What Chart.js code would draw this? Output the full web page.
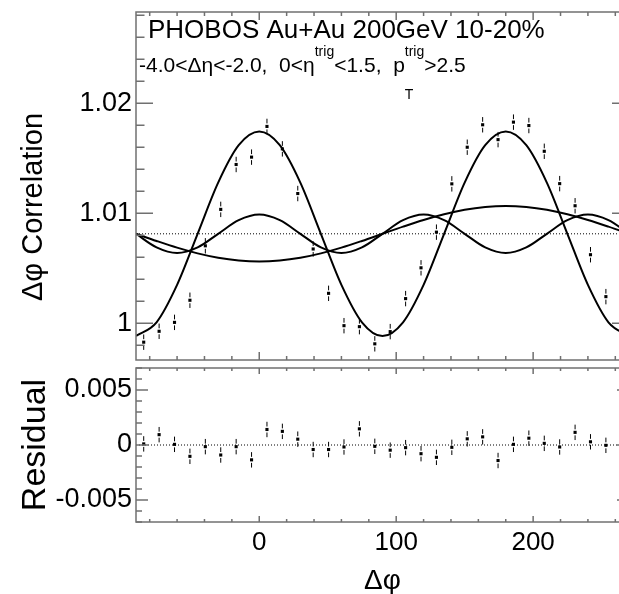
<!DOCTYPE html>
<html>
<head>
<meta charset="utf-8">
<script src="https://cdn.jsdelivr.net/npm/chart.js@4.4.1/dist/chart.umd.min.js"></script>
<style>
  html, body { margin: 0; padding: 0; background: #fff; overflow: hidden; }
  #wrap { position: relative; width: 619px; height: 594px; overflow: hidden; }
  canvas { position: absolute; left: 0; }
</style>
</head>
<body>
<div id="wrap">
  <canvas id="corrChart" width="640" height="364" style="top:0"></canvas>
  <canvas id="resChart" width="640" height="234" style="top:364px"></canvas>
</div>
<script>
const FONT = '"Liberation Sans", Arial, sans-serif';

// bin centres of the histogram (11.25 deg bins)
const phiBins = [-84.375, -73.125, -61.875, -50.625, -39.375, -28.125, -16.875, -5.625,
  5.625, 16.875, 28.125, 39.375, 50.625, 61.875, 73.125, 84.375, 95.625, 106.875,
  118.125, 129.375, 140.625, 151.875, 163.125, 174.375, 185.625, 196.875, 208.125,
  219.375, 230.625, 241.875, 253.125];
const corrValues = [0.99829, 0.99928, 1.00009, 1.00210, 1.00705, 1.01036, 1.01444, 1.01511,
  1.01790, 1.01586, 1.01180, 1.00676, 1.00273, 0.99979, 0.99970, 0.99814, 0.99925, 1.00225,
  1.00505, 1.00829, 1.01268, 1.01601, 1.01805, 1.01670, 1.01829, 1.01798, 1.01564,
  1.01270, 1.01069, 1.00624, 1.00243];
const corrErrors = [0.0007, 0.0007, 0.0007, 0.0007, 0.0007, 0.0007, 0.0007, 0.0007,
  0.0007, 0.0007, 0.0007, 0.0007, 0.0007, 0.0007, 0.0007, 0.0007, 0.0007, 0.0007,
  0.0007, 0.0007, 0.0007, 0.0007, 0.0007, 0.0007, 0.0007, 0.0007, 0.0007,
  0.0007, 0.0007, 0.0007, 0.0007];
const residValues = [0.0001, 0.00094, 0.00006, -0.00103, -0.00015, -0.00091, -0.00015, -0.00135,
  0.00141, 0.00124, 0.00053, -0.00041, -0.00041, -0.00018, 0.00147, -0.00012, -0.00047, -0.00024,
  -0.00079, -0.00112, -0.00021, 0.00056, 0.00074, -0.00141, 0.00006, 0.00062, 0.00015,
  -0.00018, 0.00115, 0.00029, -0.00003];
const residErrors = corrErrors;

// fit components every 15 deg
const curvePhi = [-90, -75, -60, -45, -30, -15, 0, 15, 30, 45, 60, 75, 90, 105, 120, 135,
  150, 165, 180, 195, 210, 225, 240, 255, 270];
const fitHarm1 = [1.00814, 1.00749, 1.00688, 1.00636, 1.00596, 1.00571, 1.00562, 1.00571, 1.00596,
  1.00636, 1.00688, 1.00749, 1.00814, 1.00879, 1.00940, 1.00992, 1.01032, 1.01057, 1.01066,
  1.01057, 1.01032, 1.00992, 1.00940, 1.00879, 1.00814];
const fitHarm2 = [0.99885, 1.00010, 1.00350, 1.00814, 1.01279, 1.01619, 1.01743, 1.01619, 1.01279,
  1.00814, 1.00350, 1.00010, 0.99885, 1.00010, 1.00350, 1.00814, 1.01279, 1.01619, 1.01743,
  1.01619, 1.01279, 1.00814, 1.00350, 1.00010, 0.99885];
const fitHarm3 = [1.00814, 1.00690, 1.00639, 1.00690, 1.00814, 1.00938, 1.00989, 1.00938, 1.00814,
  1.00690, 1.00639, 1.00690, 1.00814, 1.00938, 1.00989, 1.00938, 1.00814, 1.00690, 1.00639,
  1.00690, 1.00814, 1.00938, 1.00989, 1.00938, 1.00814];
const fitBase = 1.00814;

const xRange = [-90, 270];
const corrRange = [0.99667, 1.0283];
const residRange = [-0.007, 0.007];
const xTickValues = [0, 100, 200];
const corrTickValues = [1, 1.01, 1.02];
const corrTickLabels = ['1', '1.01', '1.02'];
const residTickValues = [-0.005, 0, 0.005];
const residTickLabels = ['-0.005', '0', '0.005'];

const headerLine1 = 'PHOBOS Au+Au 200GeV 10-20%';
const corrTitle = '\u0394\u03c6 Correlation';

const pts = (xs, ys) => xs.map((x, i) => ({ x: x, y: ys[i] }));

// vertical error bars with a small gap around the marker
const errorBars = {
  id: 'errorBars',
  afterDatasetsDraw(chart) {
    const { ctx, scales: { x, y } } = chart;
    const ds = chart.data.datasets.find(d => d.errors);
    if (!ds) return;
    ctx.save();
    ctx.strokeStyle = '#000';
    ctx.lineWidth = 1;
    ds.data.forEach((p, i) => {
      const px = x.getPixelForValue(p.x);
      const py = y.getPixelForValue(p.y);
      const hi = y.getPixelForValue(p.y + ds.errors[i]);
      const lo = y.getPixelForValue(p.y - ds.errors[i]);
      ctx.beginPath();
      ctx.moveTo(px, hi); ctx.lineTo(px, py - 3);
      ctx.moveTo(px, py + 3); ctx.lineTo(px, lo);
      ctx.stroke();
    });
    ctx.restore();
  }
};

// ROOT style frame, ticks pointing inwards on all four sides
function framePlugin(cfg) {
  return {
    id: 'frame',
    afterDatasetsDraw(chart) {
      const { ctx, chartArea: a, scales: { x, y } } = chart;
      ctx.save();
      ctx.strokeStyle = '#707070';
      ctx.lineWidth = 1.5;
      ctx.strokeRect(a.left, a.top, a.right - a.left, a.bottom - a.top);
      ctx.beginPath();
      for (let k = -4; k <= 13; k++) {
        const v = k * 20;
        const px = x.getPixelForValue(v);
        const len = v % 100 === 0 ? cfg.xMajor : cfg.xMinor;
        ctx.moveTo(px, a.bottom); ctx.lineTo(px, a.bottom - len);
        ctx.moveTo(px, a.top); ctx.lineTo(px, a.top + len);
      }
      for (let k = cfg.k0; k <= cfg.k1; k++) {
        const py = y.getPixelForValue(k * cfg.step);
        if (py < a.top || py > a.bottom) continue;
        const len = k % 5 === 0 ? cfg.yMajor : cfg.yMajor / 2;
        ctx.moveTo(a.left, py); ctx.lineTo(a.left + len, py);
        ctx.moveTo(a.right, py); ctx.lineTo(a.right - len, py);
      }
      ctx.stroke();
      ctx.restore();
    }
  };
}

// header text plus the y title of the upper pad (placed a bit below centre like ROOT did)
const headerText = {
  id: 'headerText',
  afterDraw(chart) {
    const ctx = chart.ctx;
    ctx.save();
    ctx.fillStyle = '#000';
    ctx.textBaseline = 'alphabetic';
    ctx.font = '26px ' + FONT;
    ctx.fillText(headerLine1, 148, 38);
    const big = '21px ' + FONT, small = '14px ' + FONT;
    const y = 72;
    let x = 139;
    const put = (t, font, dy) => {
      ctx.font = font;
      ctx.fillText(t, x, y + (dy || 0));
      return ctx.measureText(t).width;
    };
    x += put('-4.0<\u0394\u03b7<-2.0,  0<\u03b7', big);
    x += put('trig', small, -16);
    x += put('<1.5,  p', big);
    const wT = put('T', small, 27);
    const wTrig = put('trig', small, -16);
    x += Math.max(wT, wTrig);
    put('>2.5', big);

    ctx.translate(42, 207);
    ctx.rotate(-Math.PI / 2);
    ctx.textAlign = 'center';
    ctx.font = '29px ' + FONT;
    ctx.fillText(corrTitle, 0, 0);
    ctx.restore();
  }
};

const curveStyle = {
  borderColor: '#000', borderWidth: 2, pointRadius: 0,
  cubicInterpolationMode: 'monotone', fill: false
};

function yScale(range, values, labels, title) {
  return {
    type: 'linear', min: range[0], max: range[1],
    grid: { display: false, drawTicks: false },
    border: { display: false },
    afterBuildTicks: s => { s.ticks = values.map(v => ({ value: v })); },
    afterFit: s => { s.width = 136; s.paddingTop = 0; s.paddingBottom = 0; },
    ticks: {
      padding: 4, color: '#000', font: { family: FONT, size: 27 },
      callback: v => labels[values.indexOf(v)]
    },
    title: title
  };
}

new Chart(document.getElementById('corrChart'), {
  type: 'line',
  data: {
    datasets: [
      Object.assign({ label: 'n=1', data: pts(curvePhi, fitHarm1) }, curveStyle),
      Object.assign({ label: 'n=2', data: pts(curvePhi, fitHarm2) }, curveStyle),
      Object.assign({ label: 'n=3', data: pts(curvePhi, fitHarm3) }, curveStyle),
      {
        label: 'baseline', data: pts(xRange, [fitBase, fitBase]),
        borderColor: '#000', borderWidth: 1, borderDash: [1, 2], pointRadius: 0
      },
      {
        type: 'scatter', label: 'data', data: pts(phiBins, corrValues), errors: corrErrors,
        showLine: false, pointStyle: 'rect', pointRadius: 2.2,
        backgroundColor: '#000', borderWidth: 0
      }
    ]
  },
  options: {
    responsive: false,
    animation: false,
    layout: { padding: { left: 0, right: 11, top: 12, bottom: 1 } },
    plugins: { legend: { display: false }, tooltip: { enabled: false } },
    scales: {
      x: { type: 'linear', min: xRange[0], max: xRange[1], display: false },
      y: yScale(corrRange, corrTickValues, corrTickLabels, { display: false })
    }
  },
  plugins: [errorBars, framePlugin({ xMajor: 8, xMinor: 4, yMajor: 17, k0: 498, k1: 515, step: 0.002 }), headerText]
});

new Chart(document.getElementById('resChart'), {
  type: 'line',
  data: {
    datasets: [
      {
        label: 'zero', data: pts(xRange, [0, 0]),
        borderColor: '#000', borderWidth: 1, borderDash: [1, 2], pointRadius: 0
      },
      {
        type: 'scatter', label: 'residual', data: pts(phiBins, residValues), errors: residErrors,
        showLine: false, pointStyle: 'rect', pointRadius: 2.2,
        backgroundColor: '#000', borderWidth: 0
      }
    ]
  },
  options: {
    responsive: false,
    animation: false,
    layout: { padding: { left: 0, right: 11, top: 1, bottom: 0 } },
    plugins: { legend: { display: false }, tooltip: { enabled: false } },
    scales: {
      x: {
        type: 'linear', min: xRange[0], max: xRange[1],
        grid: { display: false, drawTicks: false },
        border: { display: false },
        afterBuildTicks: s => { s.ticks = xTickValues.map(v => ({ value: v })); },
        afterFit: s => { s.height = 76; s.paddingLeft = 0; s.paddingRight = 0; },
        ticks: { padding: 5, color: '#000', font: { family: FONT, size: 26 }, maxRotation: 0 },
        title: {
          display: true, text: '\u0394\u03c6', color: '#000',
          font: { family: FONT, size: 28 }, padding: { top: 0, bottom: 0 }
        }
      },
      y: yScale(residRange, residTickValues, residTickLabels, {
        display: true, text: 'Residual', color: '#000',
        font: { family: FONT, size: 34 }, padding: { top: 15, bottom: 0 }
      })
    }
  },
  plugins: [errorBars, framePlugin({ xMajor: 6, xMinor: 3, yMajor: 12, k0: -8, k1: 8, step: 0.001 })]
});
</script>
</body>
</html>
